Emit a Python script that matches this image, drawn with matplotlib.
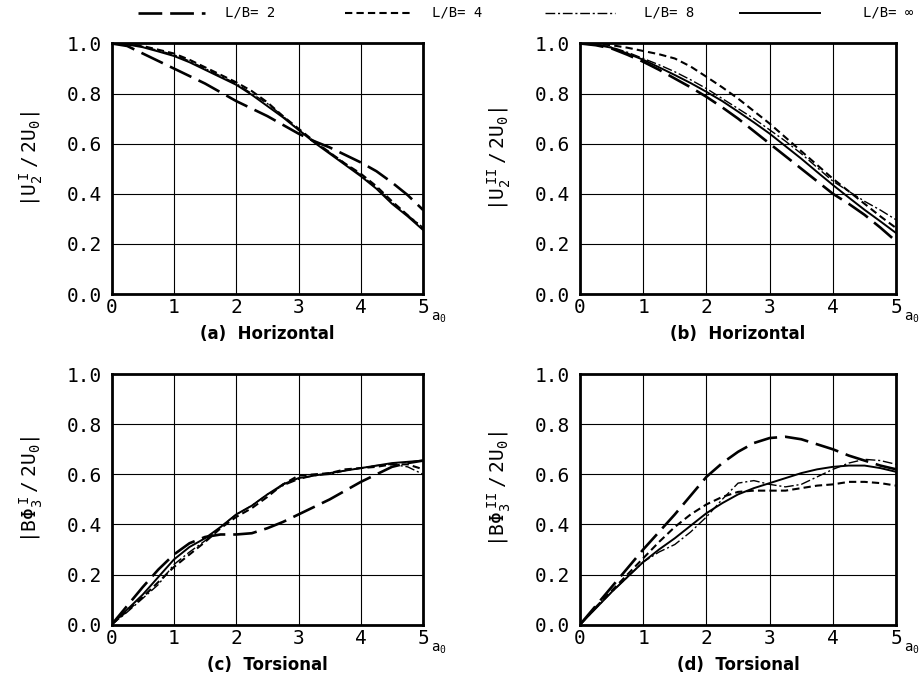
import numpy as np
import matplotlib
matplotlib.use("Agg")
import matplotlib.pyplot as plt
from matplotlib.lines import Line2D

plt.rcParams['font.family'] = ['DejaVu Sans Mono']
plt.rcParams['mathtext.fontset'] = 'custom'
plt.rcParams['mathtext.rm'] = 'DejaVu Sans Mono'
plt.rcParams['mathtext.it'] = 'DejaVu Sans Mono'

# frequency a0
a0 = [0, 0.25, 0.5, 0.75, 1, 1.25, 1.5, 1.75, 2, 2.25, 2.5, 2.75, 3, 3.25,
      3.5, 3.75, 4, 4.25, 4.5, 4.75, 5]

series_names = ["L/B= 2", "L/B= 4", "L/B= 8", "L/B= \u221e"]

# (a) horizontal, |U2^I / 2U0|
a_lb2 = [1.0, 0.99, 0.96, 0.93, 0.90, 0.87, 0.84, 0.805, 0.77, 0.74, 0.71,
         0.675, 0.64, 0.61, 0.585, 0.555, 0.525, 0.49, 0.445, 0.395, 0.335]
a_lb4 = [1.0, 0.998, 0.99, 0.975, 0.96, 0.935, 0.905, 0.875, 0.845, 0.81, 0.765,
         0.71, 0.66, 0.61, 0.565, 0.52, 0.48, 0.43, 0.37, 0.315, 0.26]
a_lb8 = [1.0, 0.997, 0.988, 0.972, 0.955, 0.93, 0.90, 0.87, 0.84, 0.80, 0.76,
         0.71, 0.655, 0.61, 0.565, 0.52, 0.475, 0.425, 0.365, 0.315, 0.265]
a_inf = [1.0, 0.996, 0.985, 0.968, 0.95, 0.925, 0.895, 0.865, 0.835, 0.795, 0.75,
         0.705, 0.655, 0.605, 0.56, 0.515, 0.47, 0.42, 0.36, 0.31, 0.255]

# (b) horizontal, |U2^II / 2U0|
b_lb2 = [1.0, 0.993, 0.98, 0.955, 0.927, 0.895, 0.86, 0.825, 0.787, 0.745, 0.70,
         0.65, 0.60, 0.55, 0.50, 0.45, 0.40, 0.36, 0.316, 0.265, 0.21]
b_lb4 = [1.0, 0.998, 0.993, 0.983, 0.97, 0.957, 0.94, 0.908, 0.867, 0.825, 0.78,
         0.73, 0.68, 0.625, 0.57, 0.515, 0.46, 0.41, 0.36, 0.31, 0.263]
b_lb8 = [1.0, 0.996, 0.985, 0.965, 0.94, 0.915, 0.887, 0.855, 0.82, 0.78, 0.74,
         0.70, 0.655, 0.61, 0.56, 0.505, 0.45, 0.41, 0.37, 0.335, 0.296]
b_inf = [1.0, 0.995, 0.983, 0.96, 0.935, 0.905, 0.874, 0.842, 0.807, 0.77, 0.728,
         0.685, 0.64, 0.59, 0.54, 0.487, 0.435, 0.385, 0.336, 0.29, 0.243]

# (c) torsional, |B Phi3^I / 2U0|
c_lb2 = [0.0, 0.075, 0.15, 0.22, 0.28, 0.325, 0.35, 0.36, 0.36, 0.365, 0.385,
         0.41, 0.44, 0.47, 0.50, 0.535, 0.57, 0.60, 0.63, 0.645, 0.655]
c_lb4 = [0.0, 0.055, 0.11, 0.17, 0.23, 0.28, 0.33, 0.385, 0.43, 0.465, 0.51,
         0.56, 0.595, 0.60, 0.605, 0.62, 0.625, 0.63, 0.64, 0.64, 0.62]
c_lb8 = [0.0, 0.05, 0.105, 0.16, 0.24, 0.29, 0.335, 0.39, 0.44, 0.475, 0.52,
         0.555, 0.58, 0.595, 0.60, 0.615, 0.625, 0.635, 0.64, 0.63, 0.60]
c_inf = [0.0, 0.06, 0.12, 0.19, 0.26, 0.31, 0.345, 0.39, 0.44, 0.475, 0.52,
         0.56, 0.585, 0.595, 0.605, 0.615, 0.625, 0.635, 0.645, 0.65, 0.655]

# (d) torsional, |B Phi3^II / 2U0|
d_lb2 = [0.0, 0.075, 0.15, 0.225, 0.30, 0.37, 0.44, 0.515, 0.59, 0.645, 0.69,
         0.725, 0.745, 0.75, 0.74, 0.72, 0.70, 0.675, 0.655, 0.635, 0.62]
d_lb4 = [0.0, 0.07, 0.135, 0.20, 0.265, 0.33, 0.39, 0.44, 0.48, 0.51, 0.53,
         0.535, 0.535, 0.535, 0.545, 0.555, 0.56, 0.57, 0.57, 0.565, 0.555]
d_lb8 = [0.0, 0.065, 0.13, 0.19, 0.25, 0.29, 0.32, 0.37, 0.43, 0.50, 0.565,
         0.575, 0.56, 0.55, 0.56, 0.59, 0.62, 0.645, 0.66, 0.655, 0.64]
d_inf = [0.0, 0.065, 0.13, 0.19, 0.25, 0.30, 0.345, 0.395, 0.445, 0.485, 0.52,
         0.545, 0.565, 0.585, 0.605, 0.62, 0.63, 0.635, 0.635, 0.625, 0.61]

panels = [
    ([a_lb2, a_lb4, a_lb8, a_inf], "(a)  Horizontal",
     r"$|\mathrm{U}_{2}^{\ \mathrm{I}}\ /\ 2\mathrm{U}_{0}|$"),
    ([b_lb2, b_lb4, b_lb8, b_inf], "(b)  Horizontal",
     r"$|\mathrm{U}_{2}^{\ \mathrm{II}}\ /\ 2\mathrm{U}_{0}|$"),
    ([c_lb2, c_lb4, c_lb8, c_inf], "(c)  Torsional",
     r"$|\mathrm{B}\Phi_{3}^{\ \mathrm{I}}\ /\ 2\mathrm{U}_{0}|$"),
    ([d_lb2, d_lb4, d_lb8, d_inf], "(d)  Torsional",
     r"$|\mathrm{B}\Phi_{3}^{\ \mathrm{II}}\ /\ 2\mathrm{U}_{0}|$"),
]

styles = [
    dict(lw=1.9, ls=(0, (9, 3))),
    dict(lw=1.5, ls=(0, (3.5, 2))),
    dict(lw=1.0, ls=(0, (7, 2, 1.5, 2))),
    dict(lw=1.4, ls='-'),
]

fig = plt.figure(figsize=(9.22, 6.79), dpi=100)

rects = [
    [0.121, 0.567, 0.338, 0.369],
    [0.629, 0.567, 0.343, 0.369],
    [0.121, 0.080, 0.338, 0.369],
    [0.629, 0.080, 0.343, 0.369],
]

for rect, (data, title, ylab) in zip(rects, panels):
    ax = fig.add_axes(rect)
    for y, st in zip(data, styles):
        ax.plot(a0, y, color='black', **st)
    ax.set_xlim(0, 5)
    ax.set_ylim(0, 1)
    ax.set_xticks([0, 1, 2, 3, 4, 5])
    ax.set_yticks([0, 0.2, 0.4, 0.6, 0.8, 1.0])
    ax.set_yticklabels(["0.0", "0.2", "0.4", "0.6", "0.8", "1.0"])
    ax.tick_params(length=0, labelsize=14, pad=3)
    ax.tick_params(axis='y', pad=7)
    ax.grid(True, color='black', lw=0.8)
    for s in ax.spines.values():
        s.set_linewidth(2)
    ax.set_ylabel(ylab, fontsize=14)
    ax.yaxis.set_label_coords(-0.212, 0.54)
    ax.text(0.5, -0.16, title, transform=ax.transAxes, ha='center', va='center',
            fontsize=12, fontweight='bold', family='DejaVu Sans')
    ax.text(1.024, -0.095, r"$\mathrm{a}_{0}$", transform=ax.transAxes,
            ha='left', va='center', fontsize=10)

# legend row across the top
leg_y = 0.981
leg_lines = [(0.150, 0.222), (0.374, 0.445), (0.591, 0.667), (0.803, 0.889)]
leg_text_x = [0.244, 0.469, 0.698, 0.936]
for (x0, x1), tx, name, st in zip(leg_lines, leg_text_x, series_names, styles):
    fig.add_artist(Line2D([x0, x1], [leg_y, leg_y], color='black',
                          transform=fig.transFigure, **st))
    fig.text(tx, leg_y, name, ha='left', va='center', fontsize=10)

fig.savefig("out.png", dpi=100)
